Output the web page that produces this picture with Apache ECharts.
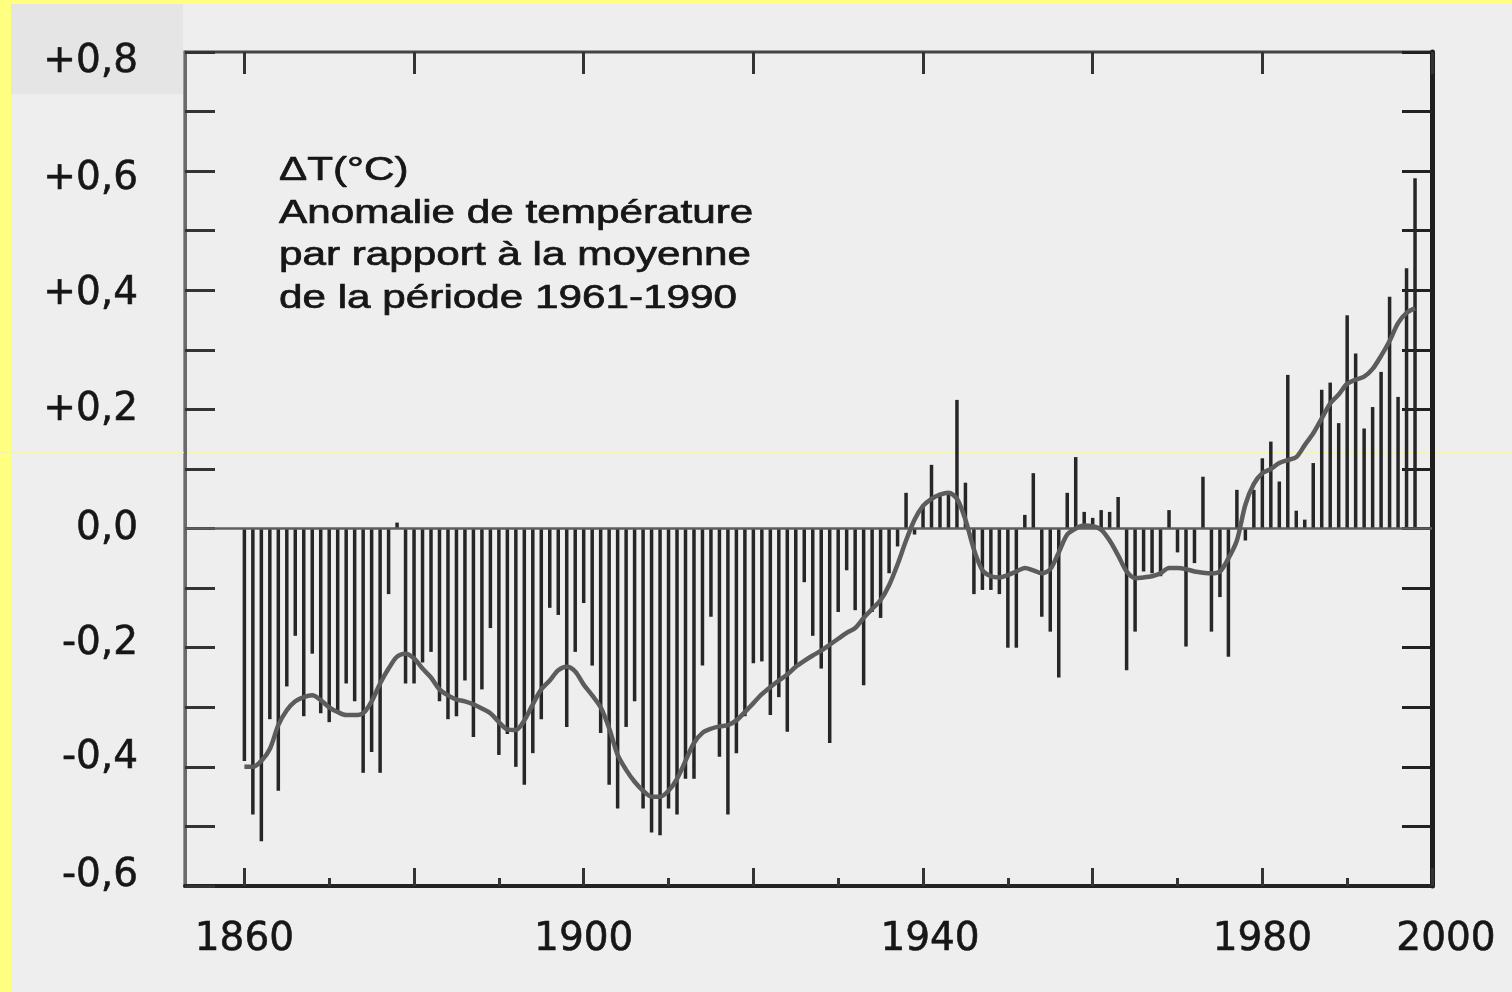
<!DOCTYPE html>
<html>
<head>
<meta charset="utf-8">
<script src="https://cdn.jsdelivr.net/npm/echarts@6/dist/echarts.min.js"></script>
<style>
  html, body { margin: 0; padding: 0; background: #eeeeee; }
  #chart { width: 1512px; height: 992px; }
</style>
</head>
<body>
<div id="chart"></div>
<script>
// anomalies annuelles 1860-1998 (°C, par rapport à 1961-1990)
var firstYear = 1860;
var anomalies = [
  -0.39, -0.48, -0.525, -0.32, -0.44, -0.265, -0.18, -0.315, -0.21, -0.31,   // 1860
  -0.325, -0.31, -0.26, -0.29, -0.41, -0.375, -0.41, -0.11, 0.01, -0.26,     // 1870
  -0.26, -0.225, -0.207, -0.29, -0.32, -0.315, -0.255, -0.35, -0.27, -0.167, // 1880
  -0.38, -0.345, -0.40, -0.43, -0.377, -0.32, -0.133, -0.145, -0.333, -0.207,// 1890
  -0.125, -0.23, -0.343, -0.43, -0.47, -0.333, -0.29, -0.47, -0.51, -0.515,  // 1900
  -0.47, -0.48, -0.42, -0.42, -0.23, -0.148, -0.383, -0.48, -0.377, -0.315,  // 1910
  -0.226, -0.223, -0.313, -0.283, -0.341, -0.23, -0.09, -0.18, -0.235, -0.36,// 1920
  -0.14, -0.07, -0.137, -0.263, -0.14, -0.15, -0.075, -0.03, 0.06, -0.01,    // 1930
  0.04, 0.107, 0.06, 0.06, 0.216, 0.077, -0.11, -0.103, -0.103, -0.11,       // 1940
  -0.20, -0.20, 0.023, 0.093, -0.148, -0.173, -0.25, 0.06, 0.12, 0.028,      // 1950
  0.018, 0.031, 0.028, 0.053, -0.238, -0.173, -0.072, -0.075, -0.08, 0.031,  // 1960
  -0.04, -0.198, -0.058, 0.087, -0.173, -0.115, -0.215, 0.065, -0.02, 0.065, // 1970
  0.118, 0.146, 0.079, 0.258, 0.03, 0.015, 0.11, 0.233, 0.245, 0.177,        // 1980
  0.358, 0.294, 0.168, 0.204, 0.263, 0.389, 0.221, 0.437, 0.588              // 1990
];
// courbe lissée
var smoothed = [
  -0.40, -0.40, -0.39, -0.37, -0.33, -0.305, -0.29, -0.283, -0.28, -0.288,
  -0.30, -0.308, -0.313, -0.313, -0.31, -0.29, -0.26, -0.235, -0.215, -0.21,
  -0.218, -0.235, -0.25, -0.27, -0.28, -0.287, -0.29, -0.295, -0.302, -0.31,
  -0.325, -0.337, -0.338, -0.322, -0.295, -0.27, -0.255, -0.238, -0.232, -0.24,
  -0.262, -0.28, -0.30, -0.335, -0.38, -0.405, -0.425, -0.44, -0.45, -0.45,
  -0.44, -0.42, -0.39, -0.36, -0.343, -0.336, -0.332, -0.33, -0.322, -0.308,
  -0.293, -0.278, -0.266, -0.255, -0.245, -0.232, -0.222, -0.213, -0.205, -0.195,
  -0.185, -0.175, -0.167, -0.15, -0.135, -0.12, -0.095, -0.06, -0.02, 0.015,
  0.038, 0.05, 0.057, 0.06, 0.05, 0.015, -0.035, -0.07, -0.08, -0.082,
  -0.078, -0.072, -0.066, -0.07, -0.075, -0.068, -0.04, -0.01, 0.0, 0.005,
  0.004, -0.002, -0.02, -0.045, -0.072, -0.083, -0.082, -0.08, -0.075, -0.066,
  -0.066, -0.068, -0.072, -0.074, -0.075, -0.072, -0.05, -0.02, 0.04, 0.075,
  0.093, 0.10, 0.11, 0.115, 0.12, 0.14, 0.16, 0.185, 0.21, 0.225,
  0.243, 0.25, 0.255, 0.268, 0.29, 0.315, 0.345, 0.362, 0.37
];
var yearLabels = [1860, 1900, 1940, 1980, 2000];
var majorYearTicks = [1860, 1880, 1900, 1920, 1940, 1960, 1980, 2000];
var minorYearTicks = [1870, 1890, 1910, 1930, 1950, 1970, 1990];
var yTickValues = [-0.6, -0.4, -0.2, 0, 0.2, 0.4, 0.6, 0.8];
var yTickLabels = ['-0,6', '-0,4', '-0,2', '0,0', '+0,2', '+0,4', '+0,6', '+0,8'];
var noteLines = ['\u0394T(\u00b0C)', 'Anomalie de temp\u00e9rature', 'par rapport \u00e0 la moyenne', 'de la p\u00e9riode 1961-1990'];

var barData = [], lineData = [];
for (var i = 0; i < anomalies.length; i++) barData.push([firstYear + i, anomalies[i]]);
for (var j = 0; j < smoothed.length; j++) lineData.push([firstYear + j, smoothed[j]]);

var FONT = 'DejaVu Sans';
var INK = '#161616';

// petits décalages des étiquettes (le scan est un peu tassé)
var yLabelStyle = ['u10', 'u9', 'u4', '', '', 'd4', 'd8', 'd10'];
function pad(top, bottom, left) {
  return {
    fontFamily: FONT, fontSize: 39, color: INK,
    textBorderColor: INK, textBorderWidth: 0.6,
    padding: [top, 0, bottom, left || 0]
  };
}
var yRich = {
  u10: pad(0, 20), u9: pad(0, 18), u4: pad(0, 8),
  d4: pad(8, 0), d8: pad(16, 0), d10: pad(20, 0)
};

var chart = echarts.init(document.getElementById('chart'));
var option = {
  backgroundColor: '#eeeeee',
  animation: false,
  grid: {
    left: 185, top: 52, width: 1247, height: 834,
    show: true, borderColor: '#444', borderWidth: 3, backgroundColor: 'transparent'
  },
  graphic: [
    {type: 'rect', left: 0, top: 0, shape: {width: 11, height: 992}, style: {fill: '#ffff80'}, silent: true},
    {type: 'rect', left: 0, top: 0, shape: {width: 1512, height: 4}, style: {fill: '#ffff80'}, silent: true},
    {type: 'rect', left: 11, top: 4, shape: {width: 172, height: 90}, style: {fill: '#e5e5e5'}, silent: true},
    {type: 'rect', left: 0, top: 452, shape: {width: 1512, height: 1}, style: {fill: '#f6f3b0'}, silent: true},
    {
      type: 'text', x: 279, y: 150, scaleX: 1.28, silent: true,
      style: {
        text: noteLines.join('\n'),
        font: '33px "Liberation Sans"',
        lineHeight: 42.5,
        fill: INK,
        stroke: INK,
        lineWidth: 0.7
      }
    }
  ],
  xAxis: [
    {
      type: 'value', position: 'bottom', min: 1853, max: 2000,
      axisLine: {show: true, onZero: false, lineStyle: {color: '#222', width: 4}},
      axisTick: {show: true, inside: true, length: 18, customValues: majorYearTicks, lineStyle: {color: '#333', width: 3}},
      axisLabel: {
        customValues: yearLabels, fontFamily: FONT, fontSize: 39, color: INK, margin: 34,
        textBorderColor: INK, textBorderWidth: 0.6,
        formatter: function (v) {
          if (v === 2000) return '{r|2000}';
          if (v === 1940) return '{m|1940}';
          return String(v);
        },
        rich: {r: pad(0, 0, 28), m: pad(0, 0, 14)}
      },
      splitLine: {show: false}
    },
    {
      type: 'value', position: 'bottom', min: 1853, max: 2000,
      axisLine: {show: false, onZero: false},
      axisTick: {show: true, inside: true, length: 8, customValues: minorYearTicks, lineStyle: {color: '#333', width: 3}},
      axisLabel: {show: false},
      splitLine: {show: false}
    },
    {
      type: 'value', position: 'top', min: 1853, max: 2000,
      axisLine: {show: false, onZero: false},
      axisTick: {show: true, inside: true, length: 22, customValues: majorYearTicks, lineStyle: {color: '#333', width: 3}},
      axisLabel: {show: false},
      splitLine: {show: false}
    }
  ],
  yAxis: [
    {
      type: 'value', position: 'left', min: -0.6, max: 0.8, interval: 0.1,
      axisLine: {show: true, onZero: false, lineStyle: {color: '#6a6a6a', width: 3}},
      axisTick: {show: true, inside: true, length: 30, lineStyle: {color: '#333', width: 3}},
      axisLabel: {
        customValues: yTickValues, fontFamily: FONT, fontSize: 39, color: INK, margin: 47,
        textBorderColor: INK, textBorderWidth: 0.6,
        formatter: function (v) {
          var k = yTickValues.indexOf(Math.round(v * 10) / 10);
          if (k < 0) return '';
          var s = yLabelStyle[k];
          return s ? '{' + s + '|' + yTickLabels[k] + '}' : yTickLabels[k];
        },
        rich: yRich
      },
      splitLine: {show: false}
    },
    {
      type: 'value', position: 'right', min: -0.6, max: 0.8, interval: 0.1,
      axisLine: {show: true, onZero: false, lineStyle: {color: '#1e1e1e', width: 5}},
      axisTick: {show: true, inside: true, length: 30, lineStyle: {color: '#222', width: 3}},
      axisLabel: {show: false},
      splitLine: {show: false}
    }
  ],
  series: [
    {
      name: 'anomalie', type: 'bar', xAxisIndex: 0, yAxisIndex: 0,
      barWidth: 3.5,
      itemStyle: {color: '#262626'},
      data: barData,
      markLine: {
        silent: true, symbol: 'none',
        label: {show: false},
        lineStyle: {color: '#5e5e5e', width: 2.5, type: 'solid'},
        data: [{yAxis: 0}]
      }
    },
    {
      name: 'moyenne', type: 'line', xAxisIndex: 0, yAxisIndex: 0,
      smooth: 0.3, symbol: 'none', z: 3,
      lineStyle: {color: '#5c5c5c', width: 4.5},
      data: lineData
    }
  ]
};
chart.setOption(option);
</script>
</body>
</html>
